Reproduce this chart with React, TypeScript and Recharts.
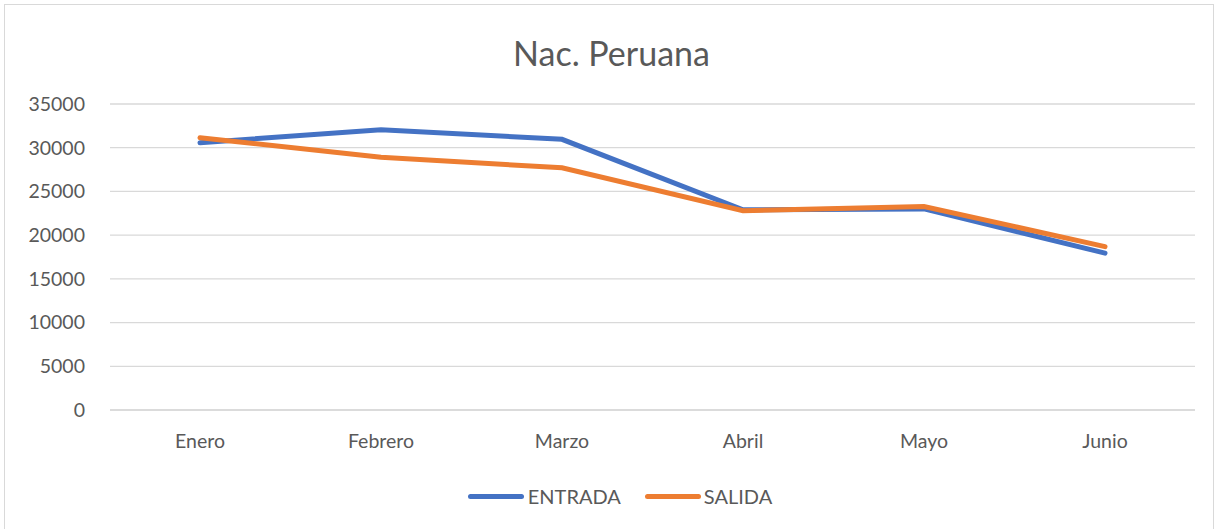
import React from 'react'
import { LineChart, Line, XAxis, YAxis, CartesianGrid } from 'recharts'

const months = ['Enero', 'Febrero', 'Marzo', 'Abril', 'Mayo', 'Junio']
const entrada = [30570, 32060, 30960, 22900, 23000, 17940]
const salida = [31140, 28900, 27710, 22790, 23280, 18690]
const yTicks = [0, 5000, 10000, 15000, 20000, 25000, 30000, 35000]

const data = months.map((m, i) => ({ month: m, entrada: entrada[i], salida: salida[i] }))

const FONT = 'Lato, "Noto Sans", sans-serif'
const TXT = '#595959'

// leyenda estilo Excel, fuera del gráfico para no reducir el área
const CustomLegend = () => (
  <div style={{ display: 'flex', justifyContent: 'center', alignItems: 'center', paddingLeft: 23, fontFamily: FONT, fontSize: 20, color: TXT }}>
    <span style={{ display: 'inline-block', width: 56, height: 5, borderRadius: 3, background: '#4472C4', marginRight: 4 }} />
    <span style={{ marginRight: 24 }}>ENTRADA</span>
    <span style={{ display: 'inline-block', width: 56, height: 5, borderRadius: 3, background: '#ED7D31', marginRight: 3 }} />
    <span>SALIDA</span>
  </div>
)

export default function App() {
  return (
    <div style={{ position: 'absolute', left: 0, top: 0, width: 1217, height: 529, background: '#fff' }}>
      <div style={{ position: 'absolute', left: 4, top: 4, width: 1208, height: 524, border: '1px solid #d9d9d9' }} />
      <div style={{ position: 'absolute', top: 32, left: 0, width: 1217, paddingLeft: 6, boxSizing: 'border-box', textAlign: 'center', fontFamily: FONT, fontSize: 34, color: TXT }}>
        Nac. Peruana
      </div>
      <div style={{ position: 'absolute', left: 0, top: 0 }}>
        <LineChart width={1217} height={529} data={data} margin={{ top: 104, right: 22, left: 0, bottom: 89 }}>
          <CartesianGrid horizontal vertical={false} stroke="#d9d9d9" strokeWidth={1.3} />
          <XAxis
            dataKey="month"
            padding={{ left: 90, right: 90 }}
            axisLine={{ stroke: '#d9d9d9', strokeWidth: 1.3 }}
            tickLine={false}
            tickSize={0}
            tickMargin={24}
            tick={{ fontFamily: FONT, fontSize: 19.5, fill: TXT }}
          />
          <YAxis
            width={110}
            domain={[0, 35000]}
            ticks={yTicks}
            axisLine={false}
            tickLine={false}
            tickSize={0}
            tickMargin={25}
            tick={{ fontFamily: FONT, fontSize: 19.5, fill: TXT }}
          />
          <Line type="linear" dataKey="entrada" name="ENTRADA" stroke="#4472C4" strokeWidth={5} strokeLinecap="round" dot={false} isAnimationActive={false} />
          <Line type="linear" dataKey="salida" name="SALIDA" stroke="#ED7D31" strokeWidth={5} strokeLinecap="round" dot={false} isAnimationActive={false} />
        </LineChart>
      </div>
      <div style={{ position: 'absolute', top: 484, left: 0, width: 1217 }}>
        <CustomLegend />
      </div>
    </div>
  )
}
